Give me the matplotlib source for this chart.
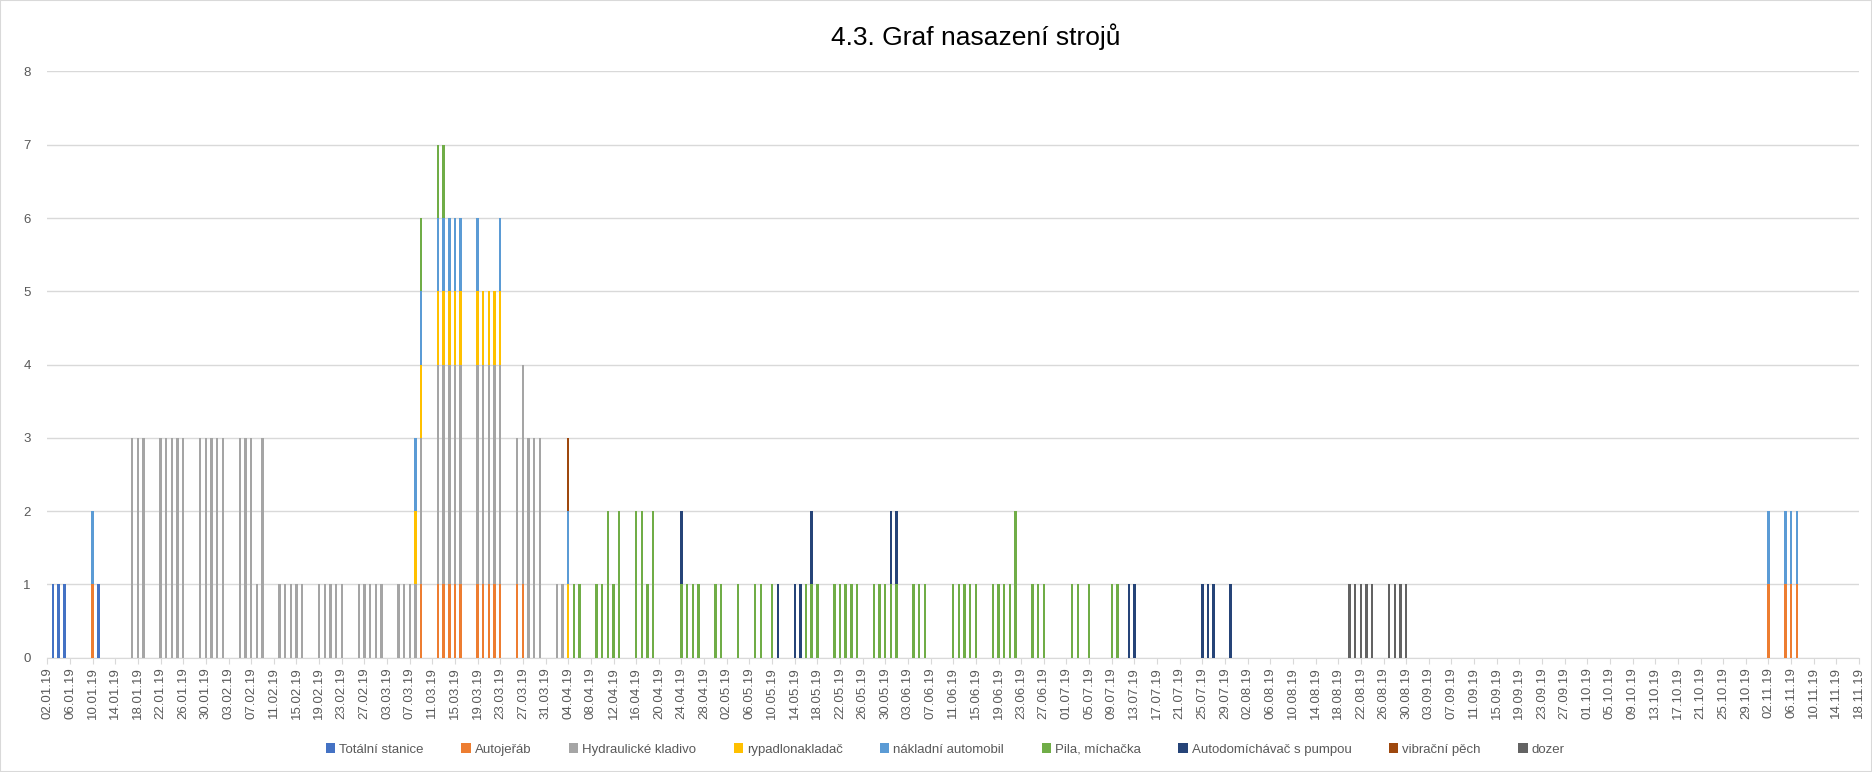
import numpy as np
import pandas as pd
import matplotlib
matplotlib.use("Agg")
import matplotlib.pyplot as plt
from matplotlib.patches import Rectangle

plt.rcParams['font.family'] = ['Liberation Sans', 'DejaVu Sans']

start = "2019-01-02"
end = "2019-11-18"

series_names = ["Totální stanice", "Autojeřáb", "Hydraulické kladivo", "rypadlonakladač",
                "nákladní automobil", "Pila, míchačka", "Autodomíchávač s pumpou",
                "vibrační pěch", "dozer"]
series_colors = ["#4472C4", "#ED7D31", "#A5A5A5", "#FFC000", "#5B9BD5", "#70AD47",
                 "#264478", "#9E480E", "#636363"]

# den (dd.mm) -> pocet stroju
totalni_stanice = {"03.01": 1, "04.01": 1, "05.01": 1, "11.01": 1}

autojerab = {"10.01": 1, "09.03": 1,
             "12.03": 1, "13.03": 1, "14.03": 1, "15.03": 1, "16.03": 1,
             "19.03": 1, "20.03": 1, "21.03": 1, "22.03": 1, "23.03": 1,
             "26.03": 1, "27.03": 1,
             "02.11": 1, "05.11": 1, "06.11": 1, "07.11": 1}

hydraulicke_kladivo = {"17.01": 3, "18.01": 3, "19.01": 3,
                       "22.01": 3, "23.01": 3, "24.01": 3, "25.01": 3, "26.01": 3,
                       "29.01": 3, "30.01": 3, "31.01": 3, "01.02": 3, "02.02": 3,
                       "05.02": 3, "06.02": 3, "07.02": 3, "08.02": 1, "09.02": 3,
                       "12.02": 1, "13.02": 1, "14.02": 1, "15.02": 1, "16.02": 1,
                       "19.02": 1, "20.02": 1, "21.02": 1, "22.02": 1, "23.02": 1,
                       "26.02": 1, "27.02": 1, "28.02": 1, "01.03": 1, "02.03": 1,
                       "05.03": 1, "06.03": 1, "07.03": 1, "08.03": 1, "09.03": 2,
                       "12.03": 3, "13.03": 3, "14.03": 3, "15.03": 3, "16.03": 3,
                       "19.03": 3, "20.03": 3, "21.03": 3, "22.03": 3, "23.03": 3,
                       "26.03": 2, "27.03": 3, "28.03": 3, "29.03": 3, "30.03": 3,
                       "02.04": 1, "03.04": 1}

rypadlonakladac = {"08.03": 1, "09.03": 1,
                   "12.03": 1, "13.03": 1, "14.03": 1, "15.03": 1, "16.03": 1,
                   "19.03": 1, "20.03": 1, "21.03": 1, "22.03": 1, "23.03": 1,
                   "04.04": 1}

nakladni_automobil = {"10.01": 1, "08.03": 1, "09.03": 1,
                      "12.03": 1, "13.03": 1, "14.03": 1, "15.03": 1, "16.03": 1,
                      "19.03": 1, "23.03": 1, "04.04": 1,
                      "02.11": 1, "05.11": 1, "06.11": 1, "07.11": 1}

pila_michacka = {"09.03": 1, "12.03": 1, "13.03": 1,
                 "05.04": 1, "06.04": 1, "09.04": 1, "10.04": 1, "11.04": 2, "12.04": 1,
                 "13.04": 2, "16.04": 2, "17.04": 2, "18.04": 1, "19.04": 2,
                 "24.04": 1, "25.04": 1, "26.04": 1, "27.04": 1,
                 "30.04": 1, "01.05": 1, "04.05": 1, "07.05": 1, "08.05": 1, "10.05": 1,
                 "16.05": 1, "17.05": 1, "18.05": 1,
                 "21.05": 1, "22.05": 1, "23.05": 1, "24.05": 1, "25.05": 1,
                 "28.05": 1, "29.05": 1, "30.05": 1, "31.05": 1, "01.06": 1,
                 "04.06": 1, "05.06": 1, "06.06": 1,
                 "11.06": 1, "12.06": 1, "13.06": 1, "14.06": 1, "15.06": 1,
                 "18.06": 1, "19.06": 1, "20.06": 1, "21.06": 1, "22.06": 2,
                 "25.06": 1, "26.06": 1, "27.06": 1,
                 "02.07": 1, "03.07": 1, "05.07": 1, "09.07": 1, "10.07": 1}

autodomichavac = {"24.04": 1, "11.05": 1, "14.05": 1, "15.05": 1, "17.05": 1,
                  "31.05": 1, "01.06": 1, "12.07": 1, "13.07": 1,
                  "25.07": 1, "26.07": 1, "27.07": 1, "30.07": 1}

vibracni_pech = {"04.04": 1}

dozer = {"20.08": 1, "21.08": 1, "22.08": 1, "23.08": 1, "24.08": 1,
         "27.08": 1, "28.08": 1, "29.08": 1, "30.08": 1}

all_series = [totalni_stanice, autojerab, hydraulicke_kladivo, rypadlonakladac,
              nakladni_automobil, pila_michacka, autodomichavac, vibracni_pech, dozer]

dates = pd.date_range(start, end, freq="D")
df = pd.DataFrame(0, index=dates, columns=series_names)
for name, values in zip(series_names, all_series):
    for d, v in values.items():
        df.loc[pd.to_datetime(d + ".2019", format="%d.%m.%Y"), name] = v

x = np.arange(len(dates))

fig = plt.figure(figsize=(18.72, 7.72), dpi=100)
ax = fig.add_axes([0.0253, 0.148, 0.9678, 0.7594])

bottom = np.zeros(len(dates))
for name, color in zip(series_names, series_colors):
    vals = df[name].values
    ax.bar(x, vals, bottom=bottom, width=0.42, color=color, label=name, zorder=3)
    bottom += vals

ax.set_xlim(0, len(dates) - 1)
ax.set_ylim(0, 8)
ax.set_yticks(range(0, 9))

tick_idx = x[::4]
ax.set_xticks(tick_idx)
ax.set_xticklabels([dates[i].strftime("%d.%m.%y") for i in tick_idx], rotation=90)

ax.yaxis.grid(True, color="#D9D9D9", lw=1)
ax.set_axisbelow(True)
for s in ["top", "right", "left"]:
    ax.spines[s].set_visible(False)
ax.spines["bottom"].set_color("#D9D9D9")
ax.tick_params(axis="x", colors="#D9D9D9", length=4, labelcolor="#595959", labelsize=9.5, pad=3)
ax.tick_params(axis="y", length=0, labelcolor="#595959", labelsize=9.5, pad=12)

fig.text(0.521, 0.952, "4.3. Graf nasazení strojů", ha="center", va="center",
         fontsize=19, color="#000000")

handles, labels = ax.get_legend_handles_labels()
fig.legend(handles, labels, loc="center", bbox_to_anchor=(0.505, 0.029), ncol=9,
           frameon=False, fontsize=9.5, handlelength=0.7, handleheight=0.7,
           handletextpad=0.3, columnspacing=2.85, labelcolor="#595959")

fig.patches.append(Rectangle((0, 0), 1, 1, transform=fig.transFigure, fill=False,
                             edgecolor="#D9D9D9", lw=1.5))

fig.savefig("out.png", dpi=100)
